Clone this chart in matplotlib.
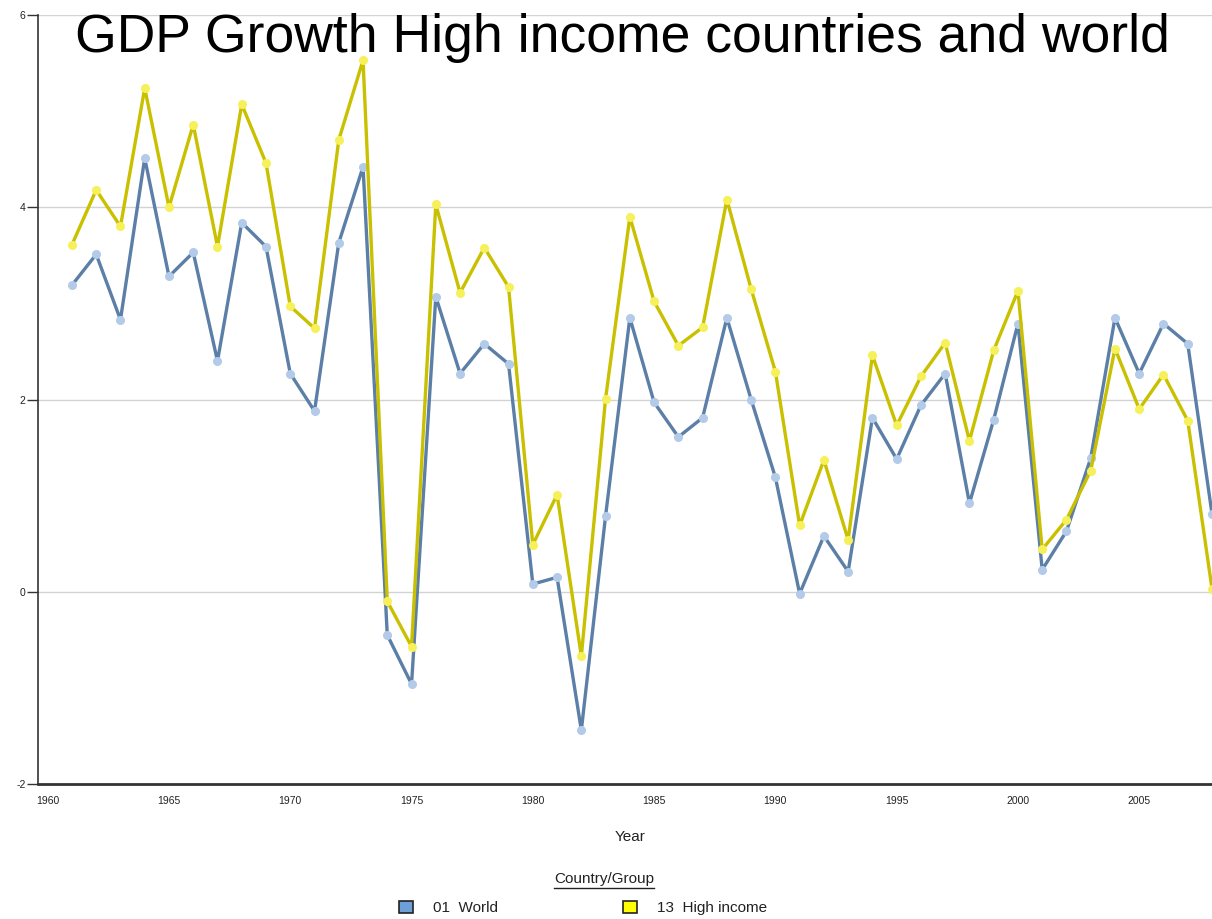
import numpy as np
import matplotlib
matplotlib.use('Agg')
import matplotlib.pyplot as plt
from matplotlib.patches import Patch
from matplotlib.lines import Line2D

plt.rcParams['font.family'] = ['Liberation Sans', 'DejaVu Sans']
plt.rcParams['axes.unicode_minus'] = False

years = list(range(1961, 2009))

world = [3.19, 3.51, 2.83, 4.51, 3.28, 3.53, 2.40, 3.84, 3.59, 2.27,
         1.88, 3.63, 4.42, -0.45, -0.96, 3.07, 2.27, 2.58, 2.37, 0.08,
         0.15, -1.44, 0.79, 2.85, 1.97, 1.61, 1.81, 2.85, 2.00, 1.19,
         -0.02, 0.58, 0.21, 1.81, 1.38, 1.94, 2.27, 0.92, 1.79, 2.79,
         0.23, 0.63, 1.39, 2.85, 2.27, 2.79, 2.58, 0.81]

high_income = [3.61, 4.18, 3.80, 5.24, 4.00, 4.86, 3.59, 5.07, 4.46, 2.97,
               2.74, 4.70, 5.53, -0.10, -0.57, 4.03, 3.11, 3.58, 3.17, 0.49,
               1.01, -0.67, 2.01, 3.90, 3.02, 2.56, 2.75, 4.08, 3.15, 2.29,
               0.69, 1.37, 0.54, 2.46, 1.73, 2.24, 2.59, 1.57, 2.51, 3.13,
               0.44, 0.75, 1.26, 2.53, 1.90, 2.26, 1.78, 0.03]

x_ticks = [1960, 1965, 1970, 1975, 1980, 1985, 1990, 1995, 2000, 2005]
y_ticks = [-2, 0, 2, 4, 6]
series_names = ['01  World', '13  High income']

fig = plt.figure(figsize=(12.12, 9.19), dpi=100)
ax = fig.add_axes([38/1212, 1 - 784/919, 1 - 38/1212, (784 - 15)/919])

ax.set_xlim(1959.6, 2008.0)
ax.set_ylim(-2, 6)

for yv in y_ticks[1:]:
    ax.axhline(yv, color='#d3d3d3', lw=1, zorder=0)

ax.plot(years, world, color='#5b7fa6', lw=2.4, zorder=3,
        marker='o', ms=5.5, mfc='#b3cbe8', mec='#b3cbe8')
ax.plot(years, high_income, color='#c9c000', lw=2.4, zorder=4,
        marker='o', ms=5.5, mfc='#f6f05a', mec='#f6f05a')

ax.set_xticks(x_ticks)
ax.set_yticks(y_ticks)
ax.tick_params(axis='x', length=0, pad=9, labelsize=7.5, labelcolor='#222222')
ax.tick_params(axis='y', length=8, width=1, color='#333333', pad=1,
               labelsize=7.5, labelcolor='#222222')

for side in ['top', 'right']:
    ax.spines[side].set_visible(False)
ax.spines['left'].set_color('#333333')
ax.spines['left'].set_linewidth(1.2)
ax.spines['bottom'].set_color('#333333')
ax.spines['bottom'].set_linewidth(2)

fig.text(622/1212, 1 - 52/919, 'GDP Growth High income countries and world',
         ha='center', va='baseline', fontsize=38.5, color='black')

fig.text(630/1212, 1 - 837/919, 'Year', ha='center', va='center',
         fontsize=11, color='#222222')

lt = fig.text(604/1212, 1 - 879/919, 'Country/Group', ha='center', va='center',
              fontsize=11, color='#222222')
fig.canvas.draw()
bb = lt.get_window_extent().transformed(fig.transFigure.inverted())
fig.add_artist(Line2D([bb.x0, bb.x1], [bb.y0 - 0.002, bb.y0 - 0.002],
                      transform=fig.transFigure, color='#222222', lw=1))

handles = [Patch(facecolor='#6f9fd8', edgecolor='#222222', lw=1.2),
           Patch(facecolor='#ffff00', edgecolor='#222222', lw=1.2)]
fig.legend(handles, series_names, loc='center', ncol=2,
           bbox_to_anchor=(583/1212, 1 - 908/919), frameon=False,
           handlelength=0.9, handleheight=0.9, handletextpad=1.3,
           columnspacing=8.2, fontsize=11, labelcolor='#222222')

fig.savefig('out.png', dpi=100)
